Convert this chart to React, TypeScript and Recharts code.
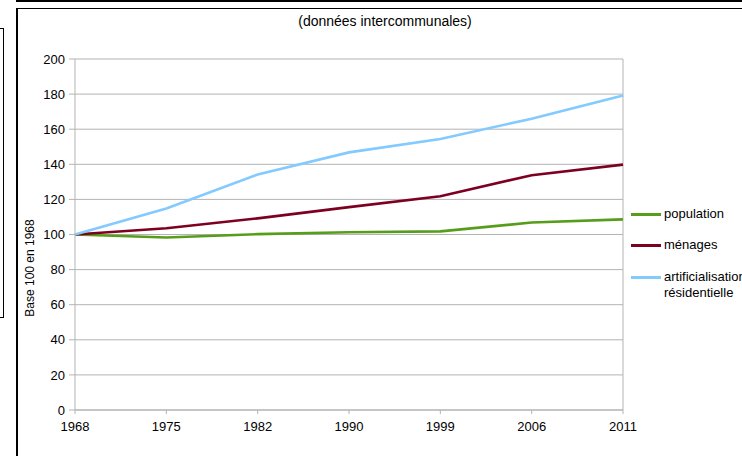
import { LineChart, Line, XAxis, YAxis, CartesianGrid, ReferenceLine } from "recharts";

const years = ["1968", "1975", "1982", "1990", "1999", "2006", "2011"];
const population = [100, 98.3, 100.2, 101.3, 101.8, 106.8, 108.6];
const menages = [100, 103.6, 109.2, 115.6, 121.8, 133.8, 139.8];
const artificialisation = [100, 114.8, 134.2, 146.8, 154.4, 166.0, 179.2];
const yTicks = [0, 20, 40, 60, 80, 100, 120, 140, 160, 180, 200];

const series = [
  { key: "population", label: "population", color: "#579d1c" },
  { key: "menages", label: "ménages", color: "#7e0021" },
  { key: "artificialisation", label: "artificialisation résidentielle", color: "#83caff" },
];

const data = years.map((year, i) => ({
  year,
  population: population[i],
  menages: menages[i],
  artificialisation: artificialisation[i],
}));

const font = "'Liberation Sans', Arial, sans-serif";
const grey = "#b3b3b3";

const App = () => {
  return (
    <div
      style={{
        position: "absolute",
        left: 0,
        top: 0,
        width: 742,
        height: 456,
        overflow: "hidden",
        background: "#fff",
        fontFamily: font,
      }}
    >
      {/* page frame bits */}
      <div style={{ position: "absolute", left: 16, top: 0, width: 726, height: 2, background: "#000" }} />
      <div style={{ position: "absolute", left: 16, top: 8, width: 726, height: 1, background: "#000" }} />
      <div style={{ position: "absolute", left: 16, top: 8, width: 2, height: 448, background: "#000" }} />
      <div
        style={{
          position: "absolute",
          left: -4,
          top: 28,
          width: 6,
          height: 288,
          border: "1.5px solid #000",
        }}
      />

      <div
        style={{
          position: "absolute",
          left: 0,
          width: 770,
          top: 13,
          textAlign: "center",
          fontSize: 14,
        }}
      >
        (données intercommunales)
      </div>

      <div
        style={{
          position: "absolute",
          left: 30,
          top: 268,
          transform: "translate(-50%, -50%) rotate(-90deg)",
          fontSize: 12,
          whiteSpace: "nowrap",
        }}
      >
        Base 100 en 1968
      </div>

      <LineChart
        width={742}
        height={456}
        data={data}
        margin={{ top: 59, right: 119, bottom: 16, left: 25 }}
      >
        <CartesianGrid stroke={grey} vertical={false} />
        <XAxis
          dataKey="year"
          stroke={grey}
          tickSize={4}
          tickMargin={8}
          height={30}
          tick={{ fill: "#000", fontSize: 13, fontFamily: font }}
          interval={0}
        />
        <YAxis
          domain={[0, 200]}
          ticks={yTicks}
          stroke={grey}
          tickSize={6}
          tickMargin={4}
          width={50}
          tick={{ fill: "#000", fontSize: 13, fontFamily: font }}
          interval={0}
        />
        <ReferenceLine x="2011" stroke={grey} />
        {series.map((s) => (
          <Line
            key={s.key}
            dataKey={s.key}
            stroke={s.color}
            strokeWidth={2.6}
            dot={false}
            isAnimationActive={false}
          />
        ))}
      </LineChart>

      <div style={{ position: "absolute", left: 631, top: 206, fontSize: 13 }}>
        {series.map((s, i) => (
          <div
            key={s.key}
            style={{ display: "flex", alignItems: "flex-start", marginBottom: i === 0 ? 15 : 16 }}
          >
            <div style={{ width: 30, height: 3, background: s.color, marginTop: 7 }} />
            <div style={{ marginLeft: 3, width: 80, lineHeight: "16px", whiteSpace: i === 2 ? "normal" : "nowrap" }}>
              {s.label}
            </div>
          </div>
        ))}
      </div>
    </div>
  );
};

export default App;
